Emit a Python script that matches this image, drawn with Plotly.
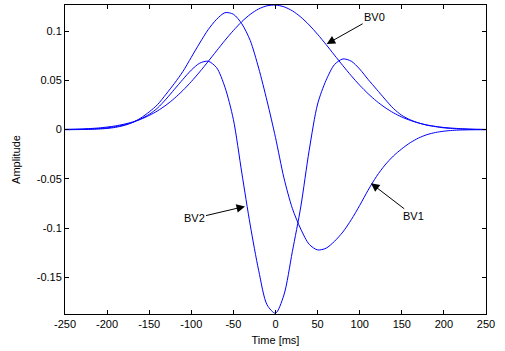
import plotly.graph_objects as go

# Time axis [ms]
time_ms = list(range(-250, 251, 10))

# Basis vectors (amplitude at each time sample)
bv0 = [0.0003, 0.0005, 0.0007, 0.0011, 0.0017, 0.0026, 0.0038, 0.0055, 0.0077, 0.0106,
       0.0144, 0.0191, 0.0249, 0.0318, 0.0398, 0.0488, 0.0587, 0.0692, 0.0800, 0.0907,
       0.1007, 0.1097, 0.1171, 0.1226, 0.1258, 0.1265, 0.1248, 0.1207, 0.1144, 0.1063,
       0.0968, 0.0865, 0.0757, 0.0650, 0.0547, 0.0451, 0.0365, 0.0289, 0.0225, 0.0171,
       0.0128, 0.0094, 0.0067, 0.0047, 0.0033, 0.0022, 0.0015, 0.0010, 0.0006, 0.0004,
       0.0002]

bv1 = [0.0, 0.0, 0.0001, 0.0003, 0.0006, 0.0012, 0.0023, 0.0042, 0.0072, 0.0118,
       0.0180, 0.0255, 0.0360, 0.0470, 0.0590, 0.0735, 0.0880, 0.1015, 0.1120, 0.1188,
       0.1172, 0.1075, 0.0905, 0.0625, 0.0290, -0.0080, -0.0490, -0.0800, -0.1010, -0.1165,
       -0.1222, -0.1205, -0.1135, -0.1040, -0.0915, -0.0770, -0.0615, -0.0475, -0.0360, -0.0268,
       -0.0195, -0.0133, -0.0085, -0.0051, -0.0029, -0.0016, -0.0008, -0.0004, -0.0002, -0.0001,
       0.0]

bv2 = [0.0, 0.0001, 0.0003, 0.0006, 0.0011, 0.0018, 0.0030, 0.0047, 0.0072, 0.0108,
       0.0155, 0.0220, 0.0310, 0.0410, 0.0510, 0.0605, 0.0675, 0.0695, 0.0630, 0.0430,
       0.0102, -0.0440, -0.0970, -0.1430, -0.1780, -0.1865, -0.1680, -0.1240, -0.0785, -0.0210,
       0.0260, 0.0500, 0.0660, 0.0718, 0.0695, 0.0615, 0.0510, 0.0410, 0.0310, 0.0215,
       0.0145, 0.0100, 0.0068, 0.0045, 0.0030, 0.0018, 0.0011, 0.0006, 0.0003, 0.0001,
       0.0]

series_names = ["BV0", "BV1", "BV2"]

x_ticks = list(range(-250, 251, 50))
x_tick_labels = [str(v) for v in x_ticks]
y_ticks = [-0.15, -0.1, -0.05, 0, 0.05, 0.1]
y_tick_labels = ["-0.15", "-0.1", "-0.05", "0", "0.05", "0.1"]

# Arrow-label anchor points (time, amplitude) and label offsets (pixels)
label_points = {"BV0": (60.8, 0.087), "BV1": (113.4, -0.0545), "BV2": (-36.2, -0.078)}
label_offsets = {"BV0": (48, -27), "BV1": (43, 33), "BV2": (-51, 12)}

FONT = "Liberation Sans, Arial, sans-serif"

fig = go.Figure()
for name, vals in zip(series_names, [bv0, bv1, bv2]):
    fig.add_trace(go.Scatter(x=time_ms, y=vals, mode="lines", name=name,
                             line=dict(color="#0000ff", width=1, shape="spline", smoothing=0.8)))

for name in series_names:
    px_, py_ = label_points[name]
    ox, oy = label_offsets[name]
    fig.add_annotation(x=px_, y=py_, xref="x", yref="y", text=name, showarrow=True,
                       ax=ox, ay=oy, arrowhead=2, arrowsize=1.7, arrowwidth=1,
                       arrowcolor="black", font=dict(size=11, color="black", family=FONT))

axis_common = dict(showline=True, linecolor="black", linewidth=1, mirror="ticks",
                   ticks="inside", ticklen=4, tickcolor="black", showgrid=False,
                   zeroline=False, automargin=False,
                   tickfont=dict(size=11, color="black", family=FONT))

fig.update_layout(
    width=505, height=351,
    margin=dict(l=65, r=19, t=5, b=37),
    paper_bgcolor="white", plot_bgcolor="white",
    showlegend=False,
    xaxis=dict(range=[-250, 250], tickvals=x_ticks, ticktext=x_tick_labels,
               title=dict(text="Time [ms]", standoff=7,
                          font=dict(size=11, color="black", family=FONT)),
               **axis_common),
    yaxis=dict(range=[-0.1873, 0.1266], tickvals=y_ticks, ticktext=y_tick_labels,
               title=dict(text="Amplitude", standoff=13,
                          font=dict(size=11, color="black", family=FONT)),
               **axis_common),
)

fig.write_html("out.html",
               config={"displayModeBar": False},
               post_script="document.body.style.margin='0';document.body.style.padding='0';"
                           "document.body.style.overflow='hidden';")
